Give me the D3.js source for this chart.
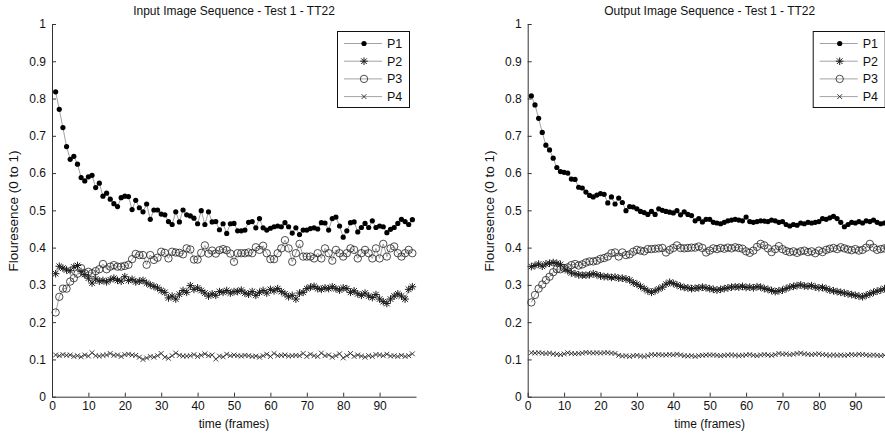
<!DOCTYPE html>
<html>
<head>
<meta charset="utf-8">
<script src="https://cdn.jsdelivr.net/npm/d3@7"></script>
<style>
  body { margin: 0; background: #fff; }
  text { font-family: Arial, "Liberation Sans", sans-serif; fill: #111; }
</style>
</head>
<body>
<div id="chart"></div>
<script>
// frame numbers (x axis)
var frames = d3.range(1, 100);
var xTicks = [0, 10, 20, 30, 40, 50, 60, 70, 80, 90];
var yTicks = [0, 0.1, 0.2, 0.3, 0.4, 0.5, 0.6, 0.7, 0.8, 0.9, 1];
var seriesNames = ["P1", "P2", "P3", "P4"];
var titles = ["Input Image Sequence - Test 1 - TT22", "Output Image Sequence - Test 1 - TT22"];

// input sequence
var p1In = [0.818,0.771,0.722,0.671,0.637,0.645,0.624,0.588,0.579,0.590,0.594,0.561,0.573,0.538,0.546,0.530,0.518,0.510,0.534,0.538,
  0.537,0.502,0.527,0.507,0.496,0.517,0.476,0.501,0.501,0.490,0.488,0.470,0.462,0.496,0.469,0.501,0.488,0.485,0.479,0.464,
  0.499,0.462,0.496,0.469,0.470,0.448,0.464,0.438,0.464,
  0.465,0.445,0.445,0.447,0.468,0.470,0.453,0.478,0.453,0.447,0.452,0.456,0.458,0.456,0.467,0.456,0.439,0.453,0.435,0.447,
  0.447,0.451,0.453,0.450,0.467,0.466,0.447,0.478,0.482,0.458,0.428,0.445,0.467,0.469,0.442,0.454,0.465,0.454,0.472,0.454,
  0.458,0.456,0.440,0.449,0.454,0.465,0.476,0.470,0.462,0.475];
var p2In = [0.330,0.350,0.345,0.340,0.338,0.348,0.352,0.336,0.328,0.318,0.305,0.316,0.310,0.312,0.308,0.314,0.318,0.312,0.310,0.322,
  0.312,0.315,0.308,0.310,0.312,0.305,0.300,0.296,0.292,0.285,0.280,0.265,0.270,0.262,0.275,0.285,0.280,0.298,0.288,0.292,
  0.285,0.278,0.270,0.276,0.272,0.282,0.280,0.285,0.278,0.282,
  0.282,0.286,0.278,0.275,0.282,0.272,0.280,0.285,0.278,0.288,0.284,0.290,0.282,0.276,0.268,0.272,0.262,0.278,0.280,0.290,
  0.294,0.296,0.290,0.288,0.292,0.290,0.295,0.290,0.286,0.292,0.290,0.280,0.284,0.276,0.272,0.278,0.270,0.266,0.274,0.262,
  0.255,0.250,0.262,0.270,0.276,0.270,0.262,0.288,0.295];
var p3In = [0.226,0.268,0.290,0.290,0.309,0.318,0.330,0.345,0.331,0.335,0.331,0.337,0.342,0.356,0.342,0.349,0.353,0.349,0.349,0.351,
  0.354,0.369,0.383,0.380,0.380,0.354,0.380,0.367,0.373,0.389,0.386,0.371,0.389,0.387,0.386,0.382,0.398,0.395,0.368,0.368,
  0.386,0.406,0.384,0.392,0.384,0.393,0.396,0.393,0.384,0.362,
  0.385,0.385,0.385,0.387,0.385,0.401,0.394,0.405,0.385,0.369,0.369,0.385,0.398,0.420,0.398,0.362,0.385,0.410,0.376,0.376,
  0.376,0.371,0.385,0.371,0.398,0.385,0.365,0.394,0.385,0.376,0.385,0.398,0.394,0.371,0.385,0.394,0.385,0.371,0.398,0.371,
  0.410,0.376,0.398,0.403,0.385,0.376,0.385,0.394,0.385];
var p4In = [0.112,0.110,0.113,0.111,0.112,0.108,0.110,0.107,0.112,0.109,0.118,0.110,0.109,0.111,0.112,0.116,0.111,0.112,0.108,0.113,
  0.114,0.112,0.111,0.106,0.100,0.104,0.108,0.106,0.110,0.116,0.106,0.103,0.110,0.117,0.111,0.109,0.109,0.110,0.113,0.108,
  0.111,0.115,0.110,0.112,0.101,0.109,0.107,0.114,0.110,0.112,
  0.110,0.109,0.111,0.110,0.108,0.109,0.106,0.110,0.114,0.108,0.116,0.110,0.111,0.112,0.109,0.110,0.111,0.110,0.116,0.108,
  0.114,0.110,0.108,0.117,0.110,0.112,0.106,0.110,0.115,0.104,0.110,0.116,0.108,0.112,0.109,0.106,0.110,0.108,0.113,0.112,
  0.110,0.114,0.109,0.110,0.108,0.111,0.108,0.110,0.115];

// output sequence
var p1Out = [0.807,0.783,0.747,0.709,0.675,0.662,0.640,0.615,0.604,0.602,0.600,0.584,0.583,0.562,0.560,0.549,0.540,0.536,0.541,0.545,
  0.543,0.520,0.536,0.517,0.533,0.521,0.499,0.510,0.509,0.504,0.497,0.494,0.489,0.497,0.489,0.504,0.500,0.497,0.495,0.493,
  0.499,0.488,0.496,0.489,0.486,0.472,0.478,0.469,0.476,0.476,
  0.468,0.466,0.464,0.468,0.472,0.474,0.476,0.474,0.472,0.482,0.470,0.468,0.470,0.472,0.471,0.470,0.474,0.472,0.468,0.470,
  0.462,0.458,0.462,0.460,0.466,0.464,0.468,0.466,0.468,0.470,0.478,0.476,0.480,0.484,0.478,0.468,0.456,0.462,0.468,0.466,
  0.470,0.466,0.472,0.470,0.474,0.468,0.464,0.466,0.470];
var p2Out = [0.349,0.352,0.356,0.350,0.356,0.358,0.360,0.358,0.355,0.345,0.338,0.332,0.330,0.327,0.326,0.326,0.327,0.330,0.327,0.324,
  0.322,0.322,0.320,0.321,0.318,0.318,0.316,0.313,0.306,0.302,0.296,0.290,0.284,0.280,0.284,0.289,0.294,0.302,0.307,0.304,
  0.300,0.296,0.293,0.292,0.290,0.291,0.292,0.294,0.292,0.290,
  0.288,0.286,0.288,0.290,0.292,0.294,0.295,0.294,0.296,0.293,0.294,0.292,0.295,0.294,0.290,0.288,0.285,0.282,0.284,0.286,
  0.290,0.294,0.296,0.298,0.300,0.297,0.296,0.298,0.294,0.292,0.293,0.290,0.286,0.284,0.282,0.280,0.278,0.276,0.274,0.272,
  0.270,0.268,0.272,0.276,0.280,0.283,0.286,0.290,0.292];
var p3Out = [0.253,0.273,0.290,0.301,0.313,0.322,0.334,0.342,0.342,0.345,0.347,0.353,0.356,0.352,0.355,0.360,0.363,0.363,0.365,0.370,
  0.372,0.376,0.385,0.387,0.376,0.387,0.380,0.382,0.389,0.394,0.392,0.390,0.396,0.396,0.397,0.398,0.399,0.387,0.394,0.399,
  0.406,0.399,0.398,0.399,0.400,0.400,0.403,0.399,0.387,0.392,
  0.398,0.396,0.399,0.397,0.400,0.398,0.401,0.399,0.397,0.390,0.386,0.392,0.402,0.410,0.406,0.398,0.388,0.396,0.404,0.396,
  0.391,0.388,0.390,0.386,0.390,0.392,0.388,0.390,0.385,0.392,0.388,0.394,0.397,0.399,0.396,0.401,0.398,0.395,0.393,0.396,
  0.392,0.394,0.400,0.410,0.400,0.394,0.396,0.398,0.401];
var p4Out = [0.118,0.117,0.118,0.117,0.116,0.117,0.115,0.114,0.113,0.115,0.118,0.116,0.115,0.116,0.117,0.119,0.118,0.117,0.118,0.117,
  0.118,0.118,0.117,0.116,0.111,0.109,0.110,0.108,0.110,0.111,0.109,0.108,0.110,0.113,0.112,0.113,0.112,0.112,0.113,0.112,
  0.114,0.112,0.110,0.109,0.110,0.108,0.110,0.111,0.112,0.112,
  0.112,0.111,0.110,0.111,0.112,0.112,0.111,0.110,0.111,0.112,0.113,0.111,0.110,0.112,0.113,0.112,0.111,0.113,0.116,0.114,
  0.115,0.113,0.114,0.116,0.117,0.115,0.114,0.113,0.114,0.115,0.113,0.112,0.111,0.112,0.111,0.112,0.111,0.112,0.113,0.112,
  0.114,0.113,0.112,0.111,0.112,0.111,0.110,0.111,0.112];

var width = 885,
  height = 435;

var svg = d3.select("#chart").append("svg")
  .attr("width", width)
  .attr("height", height);

// marker shapes, matlab style
function markerPath(type) {
  if (type == "P2") {
    var s = 3.8, a = 2.8;
    return "M" + (-s) + ",0L" + s + ",0M0," + (-s) + "L0," + s +
      "M" + (-a) + "," + (-a) + "L" + a + "," + a + "M" + (-a) + "," + a + "L" + a + "," + (-a);
  }
  if (type == "P4") {
    var b = 2.4;
    return "M" + (-b) + "," + (-b) + "L" + b + "," + b + "M" + (-b) + "," + b + "L" + b + "," + (-b);
  }
  return null;
}

function drawMarkers(g, name, pts) {
  if (name == "P1") {
    g.selectAll("circle").data(pts).enter().append("circle")
      .attr("cx", function(d) { return d[0]; })
      .attr("cy", function(d) { return d[1]; })
      .attr("r", 2.6)
      .attr("fill", "#000");
  } else if (name == "P3") {
    g.selectAll("circle").data(pts).enter().append("circle")
      .attr("cx", function(d) { return d[0]; })
      .attr("cy", function(d) { return d[1]; })
      .attr("r", 3.7)
      .attr("fill", "none")
      .attr("stroke", "#222")
      .attr("stroke-width", 0.8);
  } else {
    g.selectAll("path.mk").data(pts).enter().append("path")
      .attr("class", "mk")
      .attr("d", markerPath(name))
      .attr("transform", function(d) { return "translate(" + d[0] + "," + d[1] + ")"; })
      .attr("fill", "none")
      .attr("stroke", name == "P2" ? "#1a1a1a" : "#2a2a2a")
      .attr("stroke-width", name == "P2" ? 1 : 0.9);
  }
}

function drawPanel(x0, title, data) {
  var x = d3.scaleLinear()
    .domain([0, 100])
    .range([x0, x0 + 364]);

  var y = d3.scaleLinear()
    .domain([0, 1])
    .range([396.7, 24]);

  var g = svg.append("g");

  // series
  data.forEach(function(vals, k) {
    var name = seriesNames[k];
    var pts = vals.map(function(v, i) { return [x(frames[i]), y(v)]; });
    g.append("path")
      .datum(pts)
      .attr("d", d3.line())
      .attr("fill", "none")
      .attr("stroke", "#8a8a8a")
      .attr("stroke-width", 0.8);
    drawMarkers(g.append("g"), name, pts);
  });

  // axes
  var yAxis = g.append("g")
    .attr("transform", "translate(" + x0 + ",0)")
    .call(d3.axisLeft(y)
      .tickValues(yTicks)
      .tickSizeInner(-4)
      .tickSizeOuter(0)
      .tickPadding(6)
      .tickFormat(function(d) { return d3.format("~g")(d); }));

  var xAxis = g.append("g")
    .attr("transform", "translate(0,396.7)")
    .call(d3.axisBottom(x)
      .tickValues(xTicks)
      .tickSizeInner(-4)
      .tickSizeOuter(0)
      .tickPadding(5));

  [yAxis, xAxis].forEach(function(a) {
    a.select(".domain").attr("stroke", "#333");
    a.selectAll(".tick line").attr("stroke", "#333");
    a.selectAll("text")
      .attr("font-family", "Arial, 'Liberation Sans', sans-serif")
      .attr("font-size", 12)
      .attr("fill", "#111");
  });

  // title and labels
  g.append("text")
    .attr("x", x0 + 182)
    .attr("y", 15)
    .attr("text-anchor", "middle")
    .attr("font-size", 12)
    .text(title);

  g.append("text")
    .attr("x", x0 + 182)
    .attr("y", 428)
    .attr("text-anchor", "middle")
    .attr("font-size", 12)
    .text("time (frames)");

  g.append("text")
    .attr("transform", "translate(" + (x0 - 34) + ",211) rotate(-90)")
    .attr("text-anchor", "middle")
    .attr("font-size", 13.5)
    .text("Flouresence (0 to 1)");

  // legend
  var bx = x0 + 364 - 79;
  var leg = g.append("g").attr("class", "legend");
  leg.append("rect")
    .attr("x", bx + 0.5)
    .attr("y", 31.5)
    .attr("width", 72)
    .attr("height", 76)
    .attr("fill", "#fff")
    .attr("stroke", "#111")
    .attr("stroke-width", 1);

  seriesNames.forEach(function(name, k) {
    var ly = 43.5 + k * 17.7;
    leg.append("line")
      .attr("x1", bx + 7).attr("x2", bx + 45)
      .attr("y1", ly).attr("y2", ly)
      .attr("stroke", "#8a8a8a")
      .attr("stroke-width", 0.8);
    drawMarkers(leg.append("g"), name, [[bx + 27, ly]]);
    leg.append("text")
      .attr("x", bx + 50)
      .attr("y", ly + 4.5)
      .attr("font-size", 12.5)
      .text(name);
  });
}

drawPanel(52, titles[0], [p1In, p2In, p3In, p4In]);
drawPanel(527.7, titles[1], [p1Out, p2Out, p3Out, p4Out]);
</script>
</body>
</html>
